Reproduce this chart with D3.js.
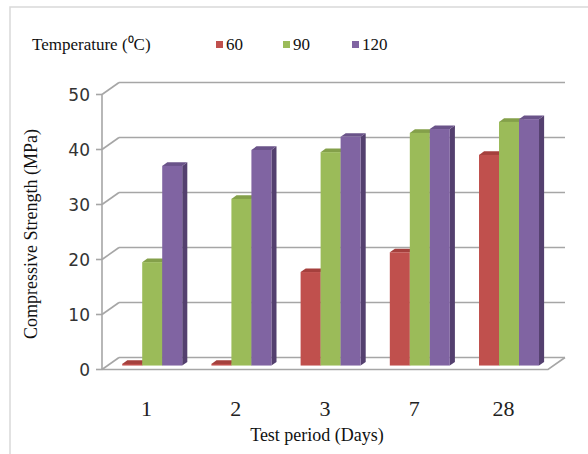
<!DOCTYPE html>
<html>
<head>
<meta charset="utf-8">
<script src="https://cdn.jsdelivr.net/npm/d3@7"></script>
<style>
  html, body { margin: 0; padding: 0; background: #ffffff; }
  svg { display: block; }
</style>
</head>
<body>
<svg id="chart" width="588" height="454"></svg>
<script>
// ---- data ----
const categories = ["1", "2", "3", "7", "28"];
const seriesNames = ["60", "90", "120"];
const values60  = [0.3, 0.3, 17.0, 20.6, 38.3];
const values90  = [18.8, 30.3, 38.8, 42.3, 44.3];
const values120 = [36.3, 39.2, 41.6, 43.0, 44.8];
const yTicks = [0, 10, 20, 30, 40, 50];
const legendTitle = "Temperature (\u2070C)";
const yTitle = "Compressive Strength (MPa)";
const xTitle = "Test period (Days)";

const seriesValues = [values60, values90, values120];
const colors = ["#C0504D", "#9BBB59", "#8064A2"];
const sideColors = ["#8B3633", "#6F8A3C", "#54406F"];
const topColors = ["#A5403D", "#84A04A", "#6A5389"];

const svg = d3.select("#chart");

// outer light border
svg.append("rect")
  .attr("x", 10).attr("y", 7).attr("width", 600).attr("height", 460)
  .attr("fill", "none").attr("stroke", "#d9d9d9").attr("stroke-width", 1.5);

// geometry
const x0 = 102, x1 = 548;
const depth = {dx: 17, dy: -12};
const x = d3.scaleBand().domain(categories).range([x0, x1]);
const y = d3.scaleLinear().domain([0, 50]).range([369.5, 94.5]);
const inner = d3.scaleBand().domain(seriesNames).range([-30, 30]);

const gridColor = "#a6a6a6";
const g = svg.append("g");

// back wall gridlines and left wall diagonals
yTicks.forEach(t => {
  g.append("line")
    .attr("x1", x0 + depth.dx).attr("y1", y(t) + depth.dy)
    .attr("x2", x1 + depth.dx).attr("y2", y(t) + depth.dy)
    .attr("stroke", gridColor).attr("stroke-width", 1.6);
  g.append("line")
    .attr("x1", x0).attr("y1", y(t))
    .attr("x2", x0 + depth.dx).attr("y2", y(t) + depth.dy)
    .attr("stroke", gridColor).attr("stroke-width", 1.6);
  g.append("line")
    .attr("x1", x0 - 6).attr("y1", y(t))
    .attr("x2", x0).attr("y2", y(t))
    .attr("stroke", gridColor).attr("stroke-width", 1.6);
});

// floor edges
g.append("path")
  .attr("d", `M${x0},${y(0)} L${x1},${y(0)} L${x1 + depth.dx},${y(0) + depth.dy}`)
  .attr("fill", "none").attr("stroke", gridColor).attr("stroke-width", 1.6);
// front vertical axis
g.append("line")
  .attr("x1", x0).attr("y1", y(50)).attr("x2", x0).attr("y2", y(0))
  .attr("stroke", gridColor).attr("stroke-width", 1.6);

// y tick labels
yTicks.forEach(t => {
  svg.append("text")
    .attr("x", 90).attr("y", y(t)).attr("dy", "0.36em")
    .attr("text-anchor", "end")
    .attr("font-family", "DejaVu Sans")
    .attr("font-size", 17).attr("fill", "#333")
    .text(t);
});

// bars
const t1 = 0.33, t2 = 0.3;
const off = {dx: depth.dx * t1, dy: depth.dy * t1};
const bd = {dx: depth.dx * t2, dy: depth.dy * t2};
const bars = svg.append("g");
categories.forEach((c, ci) => {
  const cx = x(c) + x.bandwidth() / 2 + off.dx;
  seriesNames.forEach((s, si) => {
    const v = seriesValues[si][ci];
    const left = cx + inner(s);
    const right = left + inner.bandwidth();
    const bottom = y(0) + off.dy;
    const top = y(v) + off.dy;
    // side
    bars.append("path")
      .attr("d", `M${right},${bottom} L${right + bd.dx},${bottom + bd.dy} L${right + bd.dx},${top + bd.dy} L${right},${top} Z`)
      .attr("fill", sideColors[si]);
    // top
    bars.append("path")
      .attr("d", `M${left},${top} L${right},${top} L${right + bd.dx},${top + bd.dy} L${left + bd.dx},${top + bd.dy} Z`)
      .attr("fill", topColors[si]);
    // front
    bars.append("rect")
      .attr("x", left).attr("y", top)
      .attr("width", inner.bandwidth()).attr("height", bottom - top)
      .attr("fill", colors[si]);
  });
});

// category labels
categories.forEach(c => {
  svg.append("text")
    .attr("x", x(c) + x.bandwidth() / 2).attr("y", 416)
    .attr("text-anchor", "middle")
    .attr("font-family", "Liberation Serif")
    .attr("font-size", 22).attr("fill", "#222")
    .text(c);
});

// axis titles
svg.append("text")
  .attr("x", 317).attr("y", 441)
  .attr("text-anchor", "middle")
  .attr("font-family", "Liberation Serif")
  .attr("font-size", 18).attr("fill", "#111")
  .text(xTitle);

svg.append("text")
  .attr("transform", "translate(37,234) rotate(-90)")
  .attr("text-anchor", "middle")
  .attr("font-family", "Liberation Serif")
  .attr("font-size", 18).attr("fill", "#111")
  .text(yTitle);

// legend
svg.append("text")
  .attr("x", 32).attr("y", 50)
  .attr("font-family", "Liberation Serif")
  .attr("font-size", 17).attr("fill", "#111")
  .text(legendTitle);

const legendX = [216, 283, 352];
seriesNames.forEach((s, i) => {
  svg.append("rect")
    .attr("x", legendX[i]).attr("y", 41)
    .attr("width", 7).attr("height", 7)
    .attr("fill", colors[i]);
  svg.append("text")
    .attr("x", legendX[i] + 10).attr("y", 50)
    .attr("font-family", "Liberation Serif")
    .attr("font-size", 17).attr("fill", "#111")
    .text(s);
});
</script>
</body>
</html>
